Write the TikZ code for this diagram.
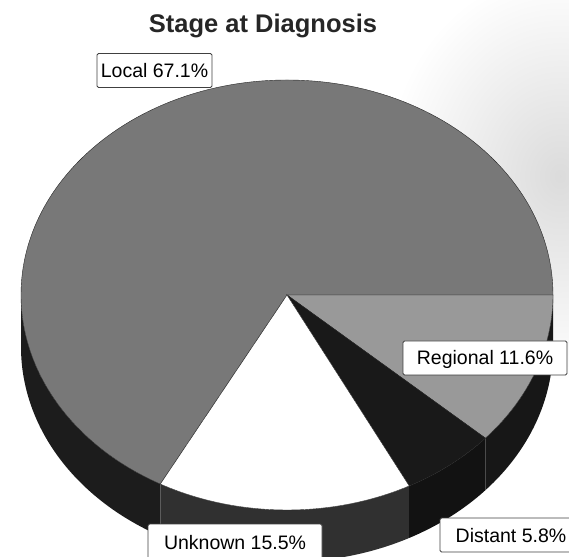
\documentclass[tikz,border=0pt]{standalone}
\usepackage{fontspec}
\setmainfont{Liberation Sans}
\usetikzlibrary{calc}

\definecolor{localtop}{gray}{0.47}
\definecolor{regionaltop}{gray}{0.6}
\definecolor{distanttop}{gray}{0.1}
\definecolor{unknowntop}{gray}{1}
\definecolor{localside}{gray}{0.11}
\definecolor{unknownside}{gray}{0.19}
\definecolor{distantside}{gray}{0.07}
\definecolor{regionalside}{gray}{0.09}

\begin{document}
\begin{tikzpicture}[x=1pt, y=1pt,
    slicelabel/.style={draw=black!75, fill=white, line width=0.8pt, rounded corners=1.5pt,
        font=\fontsize{19.5}{22}\selectfont, text height=14pt, text depth=0pt,
        inner sep=0pt, minimum height=34pt}]

        \useasboundingbox (0,0) rectangle (569,556);

        \coordinate (c) at (287,261);

        % shadow of the scan, top right
        \shade[inner color=black!14, outer color=white] (560,380) ellipse (175 and 205);

        % side of the pie
        \path[fill=localside] ($(c)+(180:266 and 215)$) arc[start angle=180, end angle=241.56, x radius=266, y radius=215] -- ++(0,-52) arc[start angle=241.56, end angle=180, x radius=266, y radius=215] -- cycle;
        \path[fill=unknownside] ($(c)+(241.56:266 and 215)$) arc[start angle=241.56, end angle=297.36, x radius=266, y radius=215] -- ++(0,-52) arc[start angle=297.36, end angle=241.56, x radius=266, y radius=215] -- cycle;
        \path[fill=distantside] ($(c)+(297.36:266 and 215)$) arc[start angle=297.36, end angle=318.24, x radius=266, y radius=215] -- ++(0,-52) arc[start angle=318.24, end angle=297.36, x radius=266, y radius=215] -- cycle;
        \path[fill=regionalside] ($(c)+(318.24:266 and 215)$) arc[start angle=318.24, end angle=360, x radius=266, y radius=215] -- ++(0,-52) arc[start angle=360, end angle=318.24, x radius=266, y radius=215] -- cycle;

        % top of the pie
        \path[draw=black!85, fill=localtop] (c) -- ($(c)+(0:266 and 215)$) arc[start angle=0, end angle=241.56, x radius=266, y radius=215] -- cycle;
        \path[draw=black!85, fill=regionaltop] (c) -- ($(c)+(0:266 and 215)$) arc[start angle=0, end angle=-41.76, x radius=266, y radius=215] -- cycle;
        \path[draw=black!85, fill=distanttop] (c) -- ($(c)+(-41.76:266 and 215)$) arc[start angle=-41.76, end angle=-62.64, x radius=266, y radius=215] -- cycle;
        \path[draw=black!85, fill=unknowntop] (c) -- ($(c)+(-62.64:266 and 215)$) arc[start angle=-62.64, end angle=-118.44, x radius=266, y radius=215] -- cycle;

        % labels on top of everything
        \node[slicelabel, minimum width=115pt] (local) at (154.5,485.5) {Local 67.1\%};
        \node[slicelabel, minimum width=164pt] (regional) at (485,198) {Regional 11.6\%};
        \node[slicelabel, minimum width=142pt] (distant) at (511,21) {Distant 5.8\%};
        \node[slicelabel, minimum width=174pt, minimum height=36pt] (unknown) at (235,14) {Unknown 15.5\%};

        \node[anchor=base, text=black!85, font=\fontsize{25.5}{30}\selectfont\bfseries] (title) at (263,523) {Stage at Diagnosis};

    \end{tikzpicture}
\end{document}
